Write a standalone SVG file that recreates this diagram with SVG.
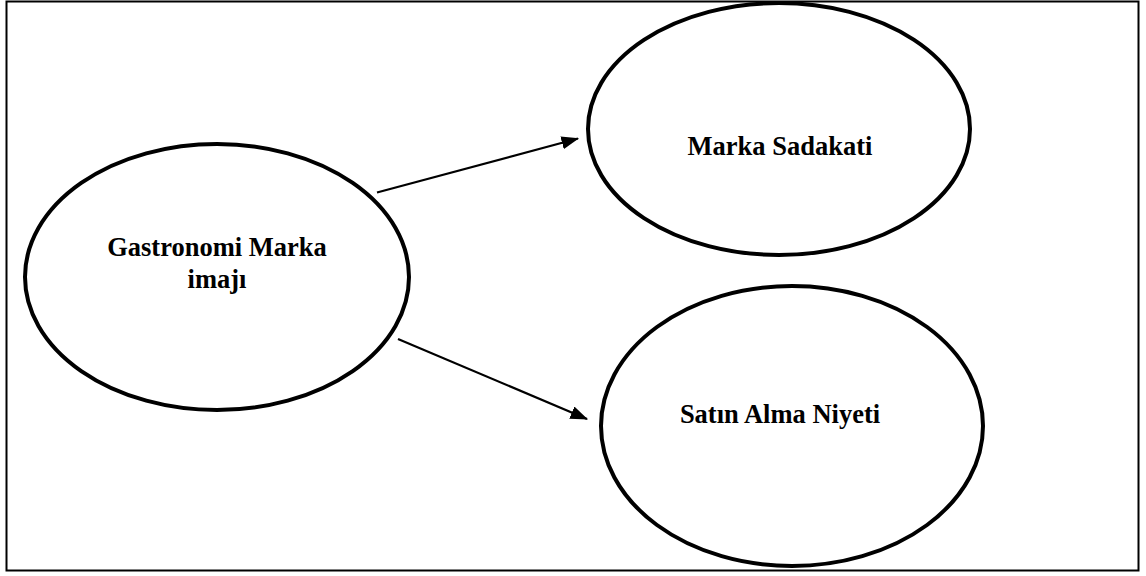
<svg xmlns="http://www.w3.org/2000/svg" width="1146" height="576" viewBox="0 0 1146 576">
<style>
.node ellipse{fill:none;stroke:#000;stroke-width:4}
.node text{font-family:"Liberation Serif","Times New Roman",serif;font-weight:bold;font-size:26.5px;fill:#000;text-anchor:middle}
.conn line{stroke:#000;stroke-width:2.2}
</style>
<defs>
<marker id="ah" markerWidth="8" markerHeight="6" refX="7.5" refY="3" orient="auto" markerUnits="strokeWidth">
<path d="M0,0 L8,3 L0,6 z" fill="#000"/>
</marker>
</defs>
<rect x="0" y="0" width="1146" height="576" fill="#fff"/>
<rect x="6.5" y="1.5" width="1132" height="569" fill="none" stroke="#000" stroke-width="2"/>
<g id="gastronomi" class="node">
<ellipse cx="217" cy="277" rx="192" ry="133"/>
<text x="217" y="256">Gastronomi Marka</text>
<text x="217" y="288">imajı</text>
</g>
<g id="sadakat" class="node">
<ellipse cx="779" cy="129" rx="191" ry="126"/>
<text x="780" y="155">Marka Sadakati</text>
</g>
<g id="satin" class="node">
<ellipse cx="792" cy="426" rx="191" ry="140"/>
<text x="780" y="423">Satın Alma Niyeti</text>
</g>
<g id="connectors" class="conn">
<line x1="377" y1="192.5" x2="578" y2="138.5" marker-end="url(#ah)"/>
<line x1="398" y1="339" x2="587" y2="419" marker-end="url(#ah)"/>
</g>
</svg>
